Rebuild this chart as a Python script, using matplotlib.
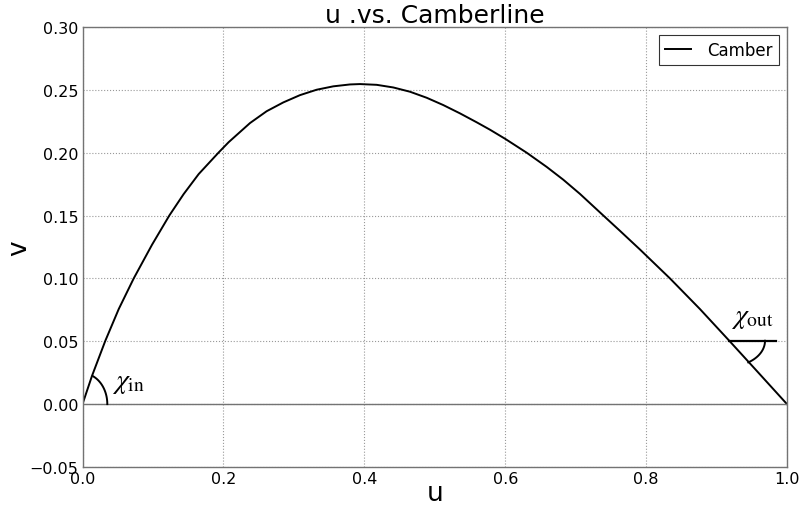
import numpy as np
import matplotlib
matplotlib.use("Agg")
import matplotlib.pyplot as plt

# camber line
u = [0.0, 0.0135, 0.0324, 0.0514, 0.0727, 0.0987, 0.1233, 0.1436, 0.1649, 0.1933,
     0.2075, 0.2378, 0.2614, 0.2850, 0.3087, 0.3324, 0.3560, 0.3797, 0.3939, 0.4176,
     0.4412, 0.4649, 0.4886, 0.5121, 0.5358, 0.5595, 0.5784, 0.6001, 0.6305, 0.6589,
     0.6825, 0.7062, 0.7384, 0.7630, 0.7913, 0.8339, 0.8765, 0.9181, 0.9570, 1.0]
v = [0.0, 0.0225, 0.0504, 0.0756, 0.1000, 0.1268, 0.1501, 0.1671, 0.1830, 0.2002,
     0.2084, 0.2236, 0.2330, 0.2400, 0.2458, 0.2501, 0.2528, 0.2543, 0.2546, 0.2540,
     0.2519, 0.2485, 0.2437, 0.2379, 0.2313, 0.2242, 0.2183, 0.2110, 0.2000, 0.1887,
     0.1785, 0.1672, 0.1505, 0.1378, 0.1230, 0.1000, 0.0756, 0.0504, 0.0265, 0.0]

xticks = [0.0, 0.2, 0.4, 0.6, 0.8, 1.0]
yticks = [-0.05, 0.0, 0.05, 0.10, 0.15, 0.20, 0.25, 0.30]

plt.rcParams['mathtext.fontset'] = 'stix'

fig = plt.figure(figsize=(8.01, 5.10), dpi=100)
ax = fig.add_axes([0.103, 0.0824, 0.8795, 0.8627])

ax.plot(u, v, color='black', lw=1.4, label='Camber')
ax.axhline(0.0, color='0.45', lw=1.0)

# inlet angle
t = np.linspace(0, np.arctan2(0.022 / 0.0245, 0.0154 / 0.0352), 40)
ax.plot(0.0352 * np.cos(t), 0.0245 * np.sin(t), color='black', lw=1.4)
ax.text(0.042, 0.0135, r'$\chi_{\rm in}$', fontsize=20, va='baseline', ha='left')

# outlet angle
x0, y0 = 0.9181, 0.0504
ax.plot([x0, 0.985], [y0, y0], color='black', lw=1.6)
t = np.linspace(0, np.arctan2(0.0172 / 0.0203, 0.027 / 0.0507), 40)
ax.plot(x0 + 0.0507 * np.cos(t), y0 - 0.0203 * np.sin(t), color='black', lw=1.4)
ax.text(0.921, 0.0655, r'$\chi_{\rm out}$', fontsize=20, va='baseline', ha='left')

ax.set_xlim(0, 1)
ax.set_ylim(-0.05, 0.30)
ax.set_xticks(xticks)
ax.set_yticks(yticks)
ax.set_xticklabels(['%.1f' % x for x in xticks], fontsize=11.5)
ax.set_yticklabels(['%.2f' % y if y >= 0 else '\u2212%.2f' % -y for y in yticks], fontsize=11.5)
ax.tick_params(length=0, pad=3)
ax.grid(True, color='0.6', linestyle=':', lw=0.8)
for s in ax.spines.values():
    s.set_color('0.45')
    s.set_linewidth(1.0)

ax.set_title('u .vs. Camberline', fontsize=18, pad=2.5)
ax.text(0.5, -0.076, 'u', fontsize=19, ha='center', va='baseline', transform=ax.transAxes)
ax.text(-0.0792, 0.5, 'v', fontsize=19, rotation=90, rotation_mode='anchor',
        ha='center', va='baseline', transform=ax.transAxes)

leg = ax.legend(loc='upper right', fontsize=12, fancybox=False, handlelength=1.6,
                handletextpad=0.95, borderpad=0.35)
leg.get_frame().set_edgecolor('black')
leg.get_frame().set_linewidth(0.8)

fig.savefig('out.png', dpi=100)
